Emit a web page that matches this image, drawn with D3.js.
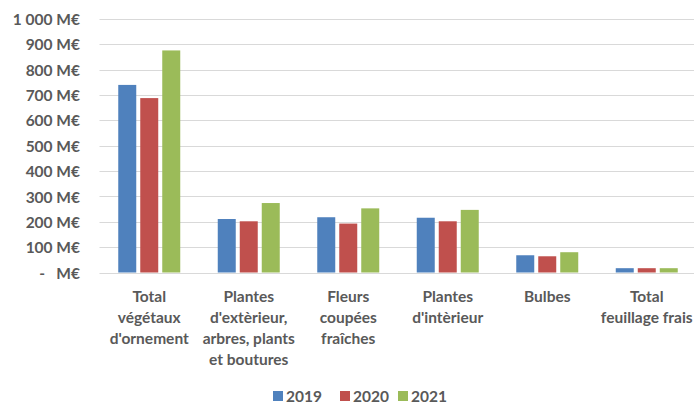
<!DOCTYPE html>
<html>
<head>
<meta charset="utf-8">
<script src="https://cdn.jsdelivr.net/npm/d3@7"></script>
<style>
  html, body { margin: 0; padding: 0; background: #fff; }
  svg { display: block; }
  text { font-family: Lato, sans-serif; font-weight: bold; fill: #595959; }
</style>
</head>
<body>
<svg id="chart" width="694" height="403"></svg>
<script>
// ---- data ----
const categories = [
  "Total végétaux d'ornement",
  "Plantes d'extèrieur, arbres, plants et boutures",
  "Fleurs coupées fraîches",
  "Plantes d'intèrieur",
  "Bulbes",
  "Total feuillage frais"
];
const categoryLines = [
  ["Total", "végétaux", "d'ornement"],
  ["Plantes", "d'extèrieur,", "arbres, plants", "et boutures"],
  ["Fleurs", "coupées", "fraîches"],
  ["Plantes", "d'intèrieur"],
  ["Bulbes"],
  ["Total", "feuillage frais"]
];
const seriesNames = ["2019", "2020", "2021"];
const values2019 = [740, 211, 218, 216, 68, 17];
const values2020 = [688, 202, 193, 202, 64, 17];
const values2021 = [876, 274, 253, 247, 80, 17];
const yTicks = [0, 100, 200, 300, 400, 500, 600, 700, 800, 900, 1000];
const colors = ["#4F81BD", "#C0504D", "#9BBB59"];

const seriesValues = [values2019, values2020, values2021];
const table = categories.map((c, i) => ({
  category: c,
  values: seriesNames.map((s, j) => ({ series: s, value: seriesValues[j][i] }))
}));

// ---- layout ----
const svg = d3.select("#chart");
const plotLeft = 99.5, plotRight = 696.5, gridRight = 694;
const yBottom = 272.5, yTop = 19;
const FONT = "Lato, sans-serif";

const x0 = d3.scaleBand().domain(categories).range([plotLeft, plotRight])
  .paddingInner(0.377).paddingOuter(0.377 / 2);
const x1 = d3.scaleBand().domain(seriesNames).range([0, x0.bandwidth()])
  .paddingInner(0.182).paddingOuter(0);
const y = d3.scaleLinear().domain([0, 1000]).range([yBottom, yTop]);
const color = d3.scaleOrdinal().domain(seriesNames).range(colors);

const locale = d3.formatLocale({ decimal: ",", thousands: "\u00a0", grouping: [3], currency: ["", ""] });
const fmt = locale.format(",d");
const tickFmt = v => v === 0 ? "-\u00a0\u00a0\u00a0M€" : fmt(v) + " M€";

// gridlines
svg.append("g").selectAll("line").data(yTicks).join("line")
  .attr("x1", plotLeft).attr("x2", gridRight)
  .attr("y1", d => Math.round(y(d)) + 0.5).attr("y2", d => Math.round(y(d)) + 0.5)
  .attr("stroke", "#D9D9D9").attr("stroke-width", 1.2);

// y axis labels
const yAxis = d3.axisLeft(y).tickValues(yTicks).tickFormat(tickFmt).tickSize(0).tickPadding(0);
const gy = svg.append("g").attr("transform", "translate(80,0)").call(yAxis);
gy.select(".domain").remove();
gy.selectAll("text").style("font-size", "15.5px").style("font-family", FONT)
  .style("font-weight", "bold").attr("fill", "#595959").attr("dy", "0.36em").attr("x", 0);

// bars
const groups = svg.append("g").selectAll("g").data(table).join("g")
  .attr("transform", d => `translate(${x0(d.category)},0)`);
groups.selectAll("rect").data(d => d.values).join("rect")
  .attr("x", d => x1(d.series))
  .attr("width", x1.bandwidth())
  .attr("y", d => y(d.value))
  .attr("height", d => yBottom - y(d.value))
  .attr("fill", d => color(d.series));

// x labels
const xl = svg.append("g").selectAll("text").data(table).join("text")
  .attr("text-anchor", "middle")
  .style("font-size", "15.5px");
xl.each(function(d, i) {
  const t = d3.select(this);
  categoryLines[i].forEach((line, k) => {
    t.append("tspan")
      .attr("x", x0(d.category) + x0.bandwidth() / 2)
      .attr("y", 302 + k * 21)
      .text(line);
  });
});

// legend
const legendX = [273, 340, 398];
const lg = svg.append("g").selectAll("g").data(seriesNames).join("g")
  .attr("transform", (d, i) => `translate(${legendX[i]},391)`);
lg.append("rect").attr("width", 10).attr("height", 10).attr("fill", d => color(d));
lg.append("text").attr("x", 13).attr("y", 10.5).style("font-size", "15.5px").text(d => d);
</script>
</body>
</html>
